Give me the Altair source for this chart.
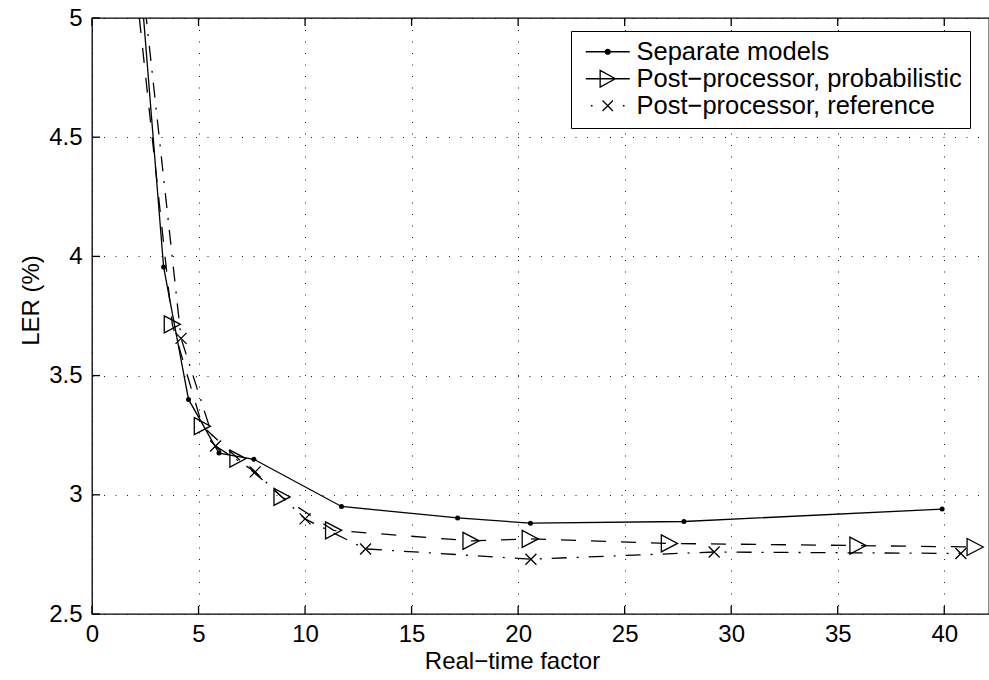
import altair as alt
import pandas as pd

# ---- data (first point of each series lies above the visible range) ----
sep_x = [1.97, 3.36, 4.53, 5.96, 7.60, 11.71, 17.16, 20.58, 27.78, 39.90]
sep_y = [5.50, 3.956, 3.400, 3.175, 3.149, 2.951, 2.903, 2.881, 2.888, 2.940]

prob_x = [1.62, 3.77, 5.18, 6.85, 8.92, 11.34, 17.79, 20.57, 27.10, 35.95, 41.45]
prob_y = [5.50, 3.715, 3.288, 3.152, 2.991, 2.851, 2.807, 2.815, 2.796, 2.787, 2.781]

ref_x = [1.94, 4.18, 5.80, 7.66, 10.00, 12.84, 20.60, 29.20, 40.78]
ref_y = [5.50, 3.656, 3.205, 3.096, 2.899, 2.773, 2.730, 2.760, 2.754]

series_names = ["Separate models", "Post\u2212processor, probabilistic", "Post\u2212processor, reference"]
x_ticks = [0, 5, 10, 15, 20, 25, 30, 35, 40]
y_ticks = [2.5, 3, 3.5, 4, 4.5, 5]

FONT = "Liberation Sans"
W, H = 897, 596
SW = 1.3

df_sep = pd.DataFrame({"x": sep_x, "y": sep_y, "series": series_names[0]})
df_prob = pd.DataFrame({"x": prob_x, "y": prob_y, "series": series_names[1]})
df_ref = pd.DataFrame({"x": ref_x, "y": ref_y, "series": series_names[2]})

xscale = alt.Scale(domain=[0, 42.1], nice=False, zero=False)
yscale = alt.Scale(domain=[2.5, 5], nice=False, zero=False)

x_axis = alt.Axis(values=x_ticks, title="Real\u2212time factor", grid=True, ticks=False, domain=False,
                  labelFlush=False, labelOverlap=False, labelPadding=8, format="~g",
                  titleX=420, titleY=54, titleBaseline="alphabetic", titleAlign="center")
y_axis = alt.Axis(values=y_ticks, title="LER (%)", grid=True, ticks=False, domain=False,
                  labelFlush=False, labelOverlap=False, labelPadding=10, format="~g",
                  titleX=-61, titleY=282, titleAngle=-90, titleAlign="center", titleBaseline="middle")

X = alt.X("x:Q", scale=xscale, axis=x_axis)
Y = alt.Y("y:Q", scale=yscale, axis=y_axis)

line_sep = alt.Chart(df_sep).mark_line(color="black", strokeWidth=SW, clip=True).encode(x=X, y=Y)
line_prob = alt.Chart(df_prob).mark_line(color="black", strokeWidth=SW, strokeDash=[15, 15], clip=True).encode(x=X, y=Y)
line_ref = alt.Chart(df_ref).mark_line(color="black", strokeWidth=SW, strokeDash=[15, 10, 2, 10], clip=True).encode(x=X, y=Y)

pt_sep = alt.Chart(df_sep).mark_point(shape="circle", filled=True, size=25, color="black", opacity=1, clip=True).encode(x=X, y=Y)
pt_prob = alt.Chart(df_prob).mark_point(shape="M-0.95,-1L0.95,0L-0.95,1Z", filled=False, size=289, color="black",
                                        strokeWidth=SW, opacity=1, clip=True).encode(x=X, y=Y)
pt_ref = alt.Chart(df_ref).mark_point(shape="M-1,-1L1,1M-1,1L1,-1", filled=False, size=121, color="black",
                                      strokeWidth=SW, opacity=1, clip=True).encode(x=X, y=Y)

# inward axis ticks
df_xt = pd.DataFrame({"x": x_ticks})
df_yt = pd.DataFrame({"y": y_ticks})
tick_bottom = alt.Chart(df_xt).mark_rule(color="black", strokeWidth=SW).encode(
    x=X, y=alt.value(H), y2=alt.value(H - 8))
tick_top = alt.Chart(df_xt).mark_rule(color="black", strokeWidth=SW).encode(
    x=X, y=alt.value(0), y2=alt.value(8))
tick_left = alt.Chart(df_yt).mark_rule(color="black", strokeWidth=SW).encode(
    y=Y, x=alt.value(0), x2=alt.value(8))

# legend (symbols combine line sample and marker)
legend_paths = [
    "M-2.75,0H2.75M0.3,0A0.3,0.3 0 1,1 -0.3,0A0.3,0.3 0 1,1 0.3,0M0.15,0A0.15,0.15 0 1,1 -0.15,0A0.15,0.15 0 1,1 0.15,0",
    "M-2.75,0H2.75M-0.95,-1.05L0.95,0L-0.95,1.05Z",
    "M-2.1,0H-1.9M1.9,0H2.1M-0.65,-0.65L0.65,0.65M-0.65,0.65L0.65,-0.65",
]
df_leg = pd.DataFrame({"series": series_names})
legend_layer = alt.Chart(df_leg).mark_point(filled=False, size=256, color="black", strokeWidth=SW, opacity=1).encode(
    shape=alt.Shape("series:N", scale=alt.Scale(domain=series_names, range=legend_paths),
                    legend=alt.Legend(title=None, orient="none", legendX=479, legendY=13,
                                      strokeColor="black", fillColor="white", padding=8,
                                      labelFont=FONT, labelFontSize=25.5, labelColor="black", labelLimit=0,
                                      rowPadding=0, symbolSize=256, symbolOffset=16, labelOffset=16,
                                      symbolStrokeWidth=SW, symbolStrokeColor="black"))
).transform_filter("false")

chart = alt.layer(
    line_sep, line_prob, line_ref, pt_sep, pt_prob, pt_ref,
    tick_bottom, tick_top, tick_left, legend_layer
).properties(
    width=W, height=H,
    autosize=alt.AutoSizeParams(type="none"),
    padding={"left": 92, "top": 18, "right": 0, "bottom": 66},
    background="white",
).configure_view(
    stroke="black", strokeWidth=SW
).configure_axis(
    labelFont=FONT, labelFontSize=24, labelColor="black",
    titleFont=FONT, titleFontSize=24, titleFontWeight="normal", titleColor="black",
    gridColor="black", gridDash=[1, 10.5], gridWidth=1, gridOpacity=0.9,
)

chart.save("out.html", embed_options={"renderer": "svg", "actions": False})
